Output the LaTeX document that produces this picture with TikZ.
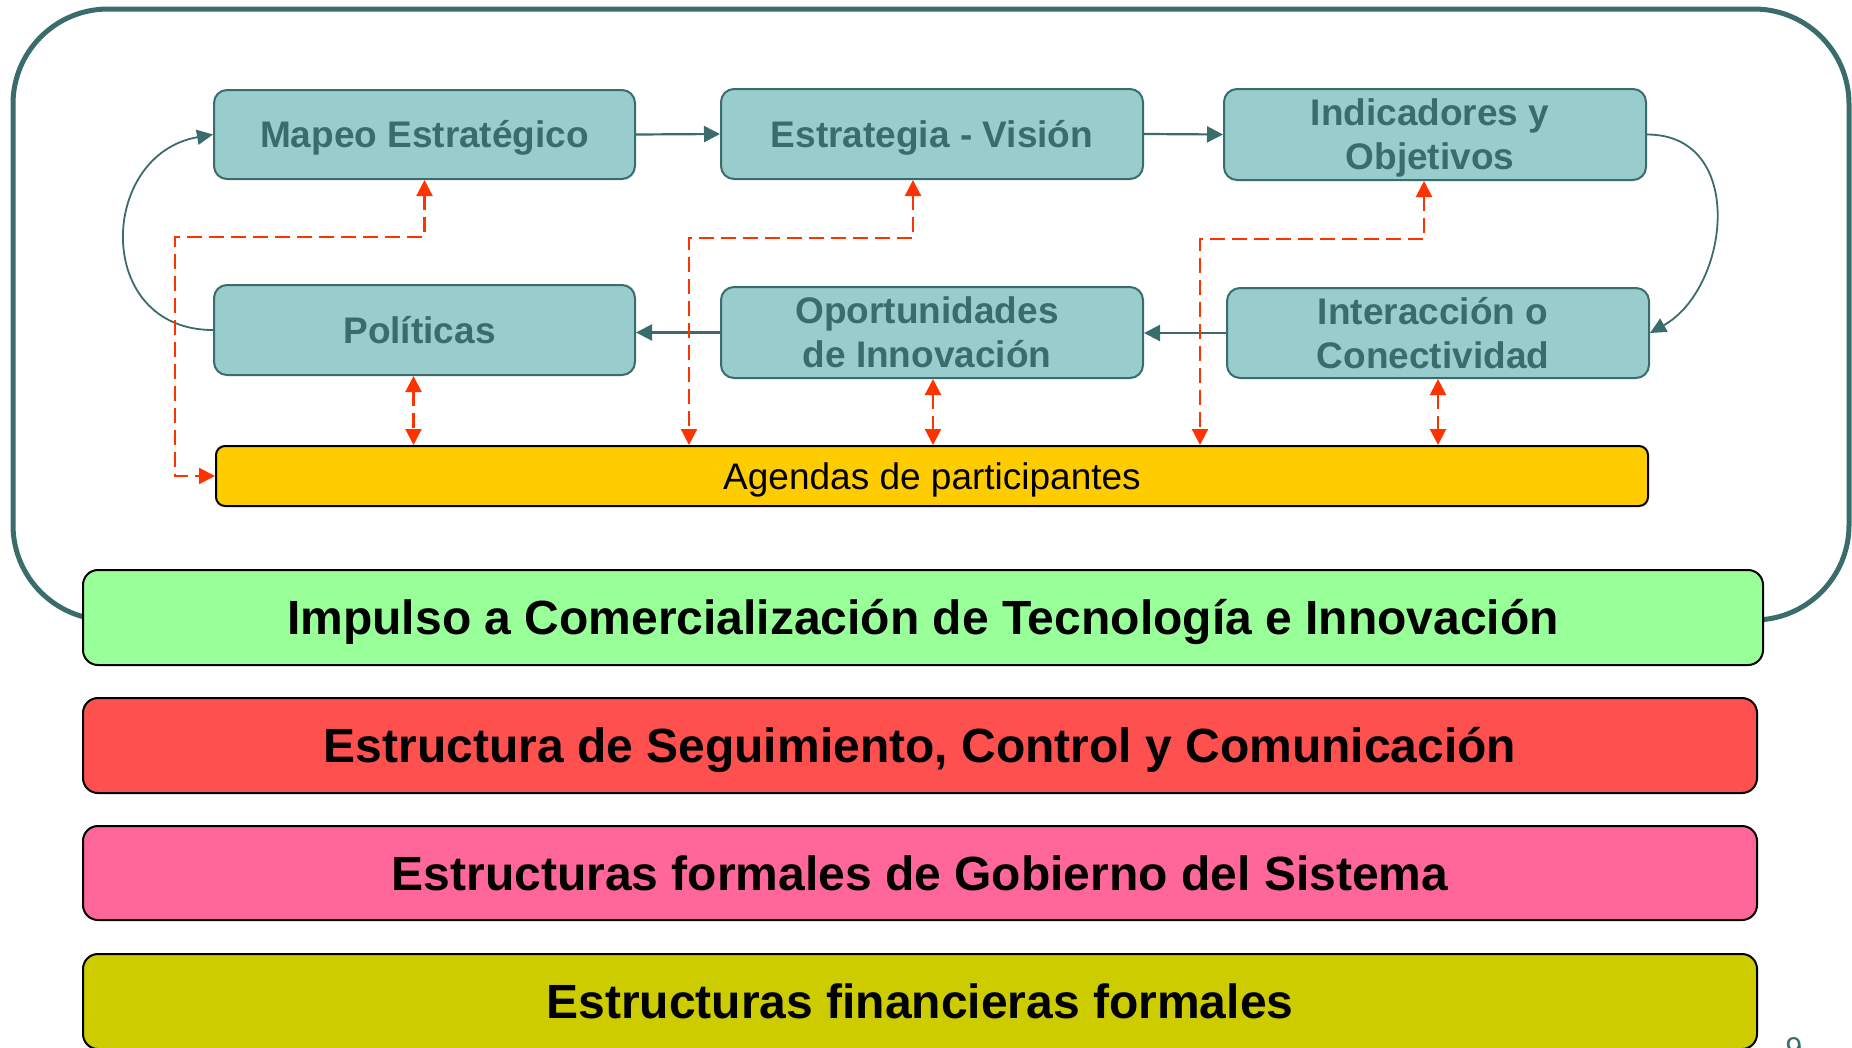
\documentclass[tikz,border=0pt]{standalone}
\usepackage{fontspec}
\setmainfont{Liberation Sans}
\usetikzlibrary{arrows.meta,calc}
\definecolor{teal1}{HTML}{3B6C6C}
\definecolor{tfill}{HTML}{99CCCC}
\definecolor{agy}{HTML}{FFCC00}
\definecolor{redd}{HTML}{FF3300}
\definecolor{bgreen}{HTML}{99FF99}
\definecolor{bred}{HTML}{FF5050}
\definecolor{bpink}{HTML}{FF6699}
\definecolor{bolive}{HTML}{CCCC00}
\newcommand{\trail}{\hspace*{10pt}}
\begin{document}
\begin{tikzpicture}[x=1pt,y=-1pt,
  tbox/.style={draw=teal1, line width=2pt, fill=tfill, rounded corners=13pt,
    minimum width=422pt, minimum height=90pt, inner sep=0pt, align=center,
    text=teal1, font=\fontsize{37}{44}\selectfont\bfseries},
  onel/.style={text height=26.5pt, text depth=0pt},
  bar/.style={draw=black, line width=2pt, rounded corners=15pt, minimum height=95pt,
    inner sep=0pt, text height=34.4pt, text depth=0pt,
    font=\fontsize{48}{56}\selectfont\bfseries},
  tarrow/.style={draw=teal1, line width=2.2pt, -{Triangle[length=16pt,width=16pt]}},
  tcurve/.style={draw=teal1, line width=1.8pt, -{Triangle[length=16pt,width=15pt]}},
  rdash/.style={draw=redd, line width=2.2pt, dash pattern=on 15pt off 7pt,
    >={Triangle[length=16pt,width=16pt]}}
]
\useasboundingbox (0,0) rectangle (1852,1047);
% outer frame
\draw[teal1, line width=5pt, rounded corners=95pt] (13,9) rectangle (1849,620);

% process boxes
\node[tbox, onel, minimum width=421pt, minimum height=89pt] (mapeo) at (424.5,134.5) {Mapeo Estratégico};
\node[tbox, onel] (estr) at (932,134) {Estrategia - Visión};
\node[tbox, minimum height=91pt] (indic) at (1435,134.5) {Indicadores y\trail\\\raisebox{0pt}[\height][0pt]{Objetivos}\trail};
\node[tbox, onel, minimum width=421pt] (pol) at (424.5,330) {Políticas\trail};
\node[tbox, minimum height=91pt] (oport) at (932,332.5) {Oportunidades\trail\\de Innovación\trail};
\node[tbox] (inter) at (1438,333) {Interacción o\trail\\Conectividad\trail};

% agendas
\node[draw=black, line width=2pt, fill=agy, rounded corners=9pt, minimum width=1432pt,
  minimum height=60pt, inner sep=0pt, text height=26.5pt, text depth=0pt,
  font=\fontsize{37}{44}\selectfont] (agendas) at (932,476) {Agendas de participantes};

% bottom bars
\node[bar, fill=bgreen, minimum width=1680pt] (impulso) at (923,617.5) {Impulso a Comercialización de Tecnología e Innovación};
\node[bar, fill=bred, minimum width=1674pt] (segui) at (920,745.5) {Estructura de Seguimiento, Control y Comunicación};
\node[bar, fill=bpink, minimum width=1674pt, minimum height=94pt] (gob) at (920,873) {Estructuras formales de Gobierno del Sistema};
\node[bar, fill=bolive, minimum width=1674pt] (fin) at (920,1001.5) {Estructuras financieras formales};

% page number (cut off at the lower edge, as in the reference)
\node[text=teal1, font=\fontsize{30}{36}\selectfont, anchor=base, inner sep=0pt] (pnum) at (1794,1058) {9};

% teal connectors
\draw[tarrow] (mapeo.east) -- (estr.west);
\draw[tarrow] (estr.east) -- (indic.west);
\draw[tcurve] (indic.east) .. controls ([xshift=100pt]indic.east) and ([xshift=80pt,yshift=45pt]inter.east) .. (inter.east);
\draw[tarrow] (inter.west) -- (inter.west -| oport.east);
\draw[tarrow] (oport.west) -- (oport.west -| pol.east);
\draw[tcurve] (pol.west) .. controls ([xshift=-120pt]pol.west) and ([xshift=-115pt,yshift=-20pt]mapeo.west) .. (mapeo.west);

% red dashed connectors
\coordinate (d1) at (175,237);
\draw[rdash,<->] (mapeo.south) |- (d1) |- (agendas.west);
\coordinate (s2) at ([xshift=-19pt]estr.south);
\coordinate (d2) at (689,238);
\draw[rdash,<->] (s2) |- (d2) -- (d2 |- agendas.north);
\coordinate (s3) at ([xshift=-11pt]indic.south);
\coordinate (d3) at (1200,239);
\draw[rdash,<->] (s3) |- (d3) -- (d3 |- agendas.north);
\coordinate (p1) at ([xshift=-11pt]pol.south);
\draw[rdash,<->] (p1) -- (p1 |- agendas.north);
\coordinate (p2) at ([xshift=1pt]oport.south);
\draw[rdash,<->] (p2) -- (p2 |- agendas.north);
\coordinate (p3) at (inter.south);
\draw[rdash,<->] (p3) -- (p3 |- agendas.north);
\end{tikzpicture}
\end{document}
